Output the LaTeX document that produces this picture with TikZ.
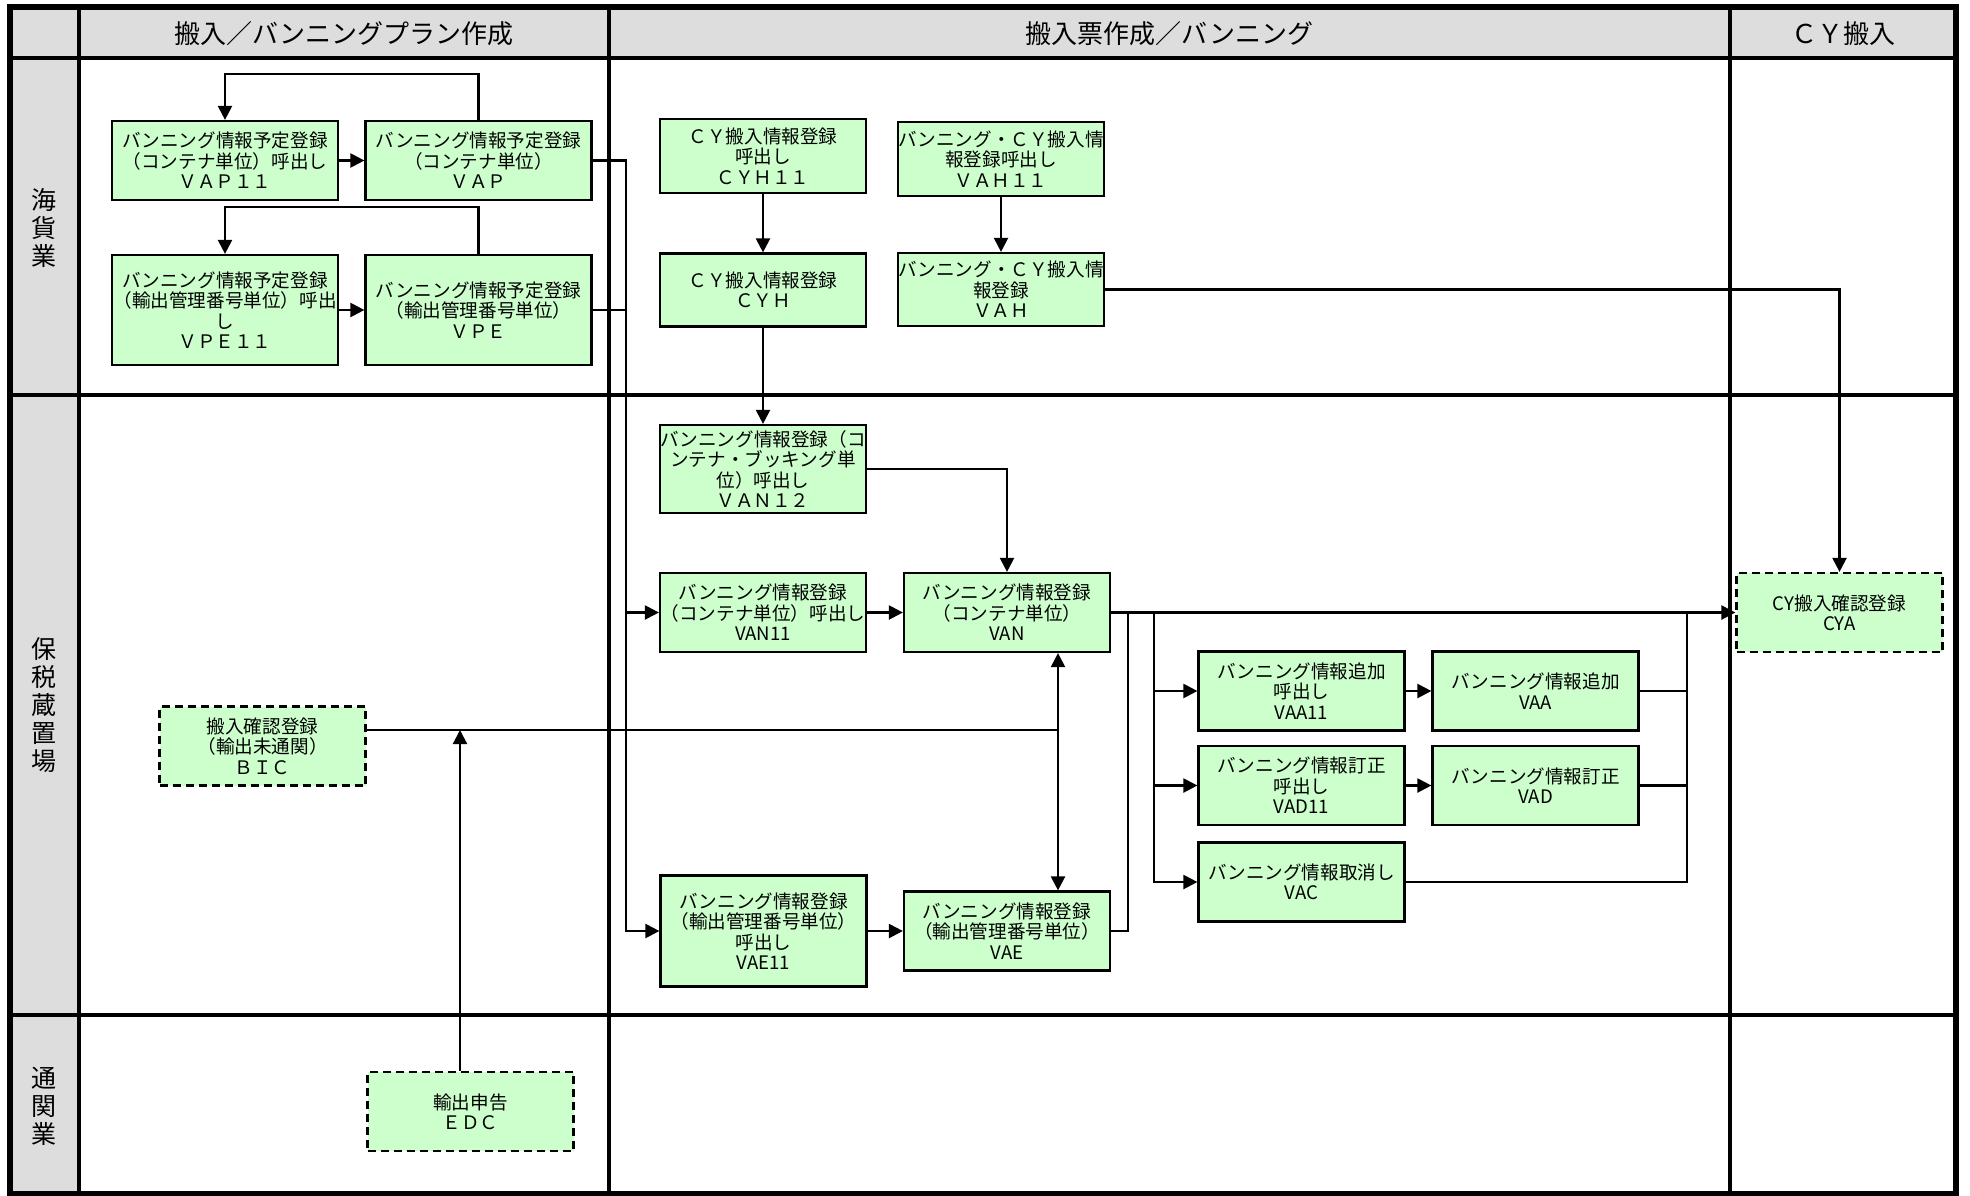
\documentclass[tikz,border=0pt]{standalone}
\usepackage{fontspec}
\newfontfamily\jp{Noto Sans CJK JP}
\usetikzlibrary{arrows.meta}
\definecolor{procgreen}{RGB}{204,255,204}
\definecolor{lanegray}{RGB}{221,221,221}

\begin{document}
\begin{tikzpicture}[x=0.5pt,y=-0.5pt,
  proc/.style={draw=black,line width=1.1pt,fill=procgreen,inner sep=0pt,align=center,
    minimum width=103pt,minimum height=39.5pt,font=\jp\fontsize{9.3}{10.2}\selectfont},
  extproc/.style={proc,dash pattern=on 4pt off 2.5pt},
  wide/.style={minimum width=113pt},
  link/.style={line width=1.1pt},
  arr/.style={link,-{Triangle[length=7pt,width=7pt]}},
  biarr/.style={link,{Triangle[length=7pt,width=7pt]}-{Triangle[length=7pt,width=7pt]}},
  hdrtext/.style={font=\jp\fontsize{13}{15}\selectfont},
  lanetext/.style={font=\jp\fontsize{12.5}{14}\selectfont,align=center}]
  \useasboundingbox (0,0) rectangle (1970,1195);

  % swimlanes
  \fill[lanegray] (10,7) rectangle (1956,58);
  \fill[lanegray] (10,58) rectangle (79,1194);
  \foreach \y in {58,395,1015} \draw[line width=2pt] (10,\y) -- (1956,\y);
  \foreach \x in {79,609,1730} \draw[line width=2pt] (\x,7) -- (\x,1194);
  \draw[line width=2.8pt] (10,7) rectangle (1956,1194);

  \node[hdrtext] (colplan) at (344,34) {搬入／バンニングプラン作成};
  \node[hdrtext] (colslip) at (1169.5,34) {搬入票作成／バンニング};
  \node[hdrtext] (colcy) at (1843,34) {ＣＹ搬入};
  \node[lanetext] (lanefwd) at (44.5,228) {海\\貨\\業};
  \node[lanetext] (lanebond) at (44.5,705) {保\\税\\蔵\\置\\場};
  \node[lanetext] (lanecust) at (44.5,1106) {通\\関\\業};

  % programs
  \node[proc,wide] (VAP11) at (225,160.5) {バンニング情報予定登録\\（コンテナ単位）呼出し\\ＶＡＰ１１};
  \node[proc,wide] (VAP) at (478.5,160.5) {バンニング情報予定登録\\（コンテナ単位）\\ＶＡＰ};
  \node[proc,wide,minimum height=55pt] (VPE11) at (225,310) {バンニング情報予定登録\\（輸出管理番号単位）呼出\\し\\ＶＰＥ１１};
  \node[proc,wide,minimum height=55pt] (VPE) at (478.5,310) {バンニング情報予定登録\\（輸出管理番号単位）\\ＶＰＥ};
  \node[proc,minimum height=37pt] (CYH11) at (763,156) {ＣＹ搬入情報登録\\呼出し\\ＣＹＨ１１};
  \node[proc,minimum height=37pt] (VAH11) at (1001,159) {バンニング・ＣＹ搬入情\\報登録呼出し\\ＶＡＨ１１};
  \node[proc,minimum height=36.5pt] (CYH) at (763,290) {ＣＹ搬入情報登録\\ＣＹＨ};
  \node[proc,minimum height=36.5pt] (VAH) at (1001,289.5) {バンニング・ＣＹ搬入情\\報登録\\ＶＡＨ};
  \node[proc,minimum height=44pt] (VAN12) at (763,469) {バンニング情報登録（コ\\ンテナ・ブッキング単\\位）呼出し\\ＶＡＮ１２};
  \node[proc] (VAN11) at (763,612.5) {バンニング情報登録\\（コンテナ単位）呼出し\\VAN11};
  \node[proc] (VAN) at (1007,612.5) {バンニング情報登録\\（コンテナ単位）\\VAN};
  \node[proc,minimum height=55.5pt] (VAE11) at (763.5,931) {バンニング情報登録\\（輸出管理番号単位）\\呼出し\\VAE11};
  \node[proc] (VAE) at (1007,931) {バンニング情報登録\\（輸出管理番号単位）\\VAE};
  \node[proc] (VAA11) at (1301.5,691) {バンニング情報追加\\呼出し\\VAA11};
  \node[proc] (VAA) at (1535.5,691) {バンニング情報追加\\VAA};
  \node[proc] (VAD11) at (1301.5,785.5) {バンニング情報訂正\\呼出し\\VAD11};
  \node[proc] (VAD) at (1535.5,785.5) {バンニング情報訂正\\VAD};
  \node[proc] (VAC) at (1301.5,882) {バンニング情報取消し\\VAC};
  \node[extproc] (CYA) at (1839.5,612.5) {CY搬入確認登録\\CYA};
  \node[extproc] (BIC) at (262.5,746) {搬入確認登録\\（輸出未通関）\\ＢＩＣ};
  \node[extproc] (EDC) at (470.5,1111.5) {輸出申告\\ＥＤＣ};

  % flow
  \coordinate (trunk) at (626,160.5);
  \coordinate (bus) at (1058,730);
  \coordinate (edcup) at (460,730);
  \coordinate (back) at (1128,612.5);
  \coordinate (split) at (1154,612.5);
  \coordinate (merge) at (1687,612.5);

  \draw[arr] (VAP11) -- (VAP);
  \draw[arr] (VAP.north) -- ++(0,-46) -| (VAP11.north);
  \draw[arr] (VPE11) -- (VPE);
  \draw[arr] (VPE.north) -- ++(0,-47) -| (VPE11.north);
  \draw[arr] (VAP.east) -| (trunk |- VAE11.west) -- (VAE11.west);
  \draw[link] (VPE.east) -- (VPE.east -| trunk);
  \draw[arr] (trunk |- VAN11.west) -- (VAN11.west);
  \draw[arr] (CYH11) -- (CYH);
  \draw[arr] (CYH) -- (VAN12);
  \draw[arr] (VAH11) -- (VAH);
  \draw[arr] (VAH.east) -| (CYA.north);
  \draw[arr] (VAN12.east) -| (VAN.north);
  \draw[arr] (VAN11) -- (VAN);
  \draw[arr] (VAN.east) -- (CYA.west);
  \draw[arr] (split) |- (VAC.west);
  \draw[arr] (split |- VAA11.west) -- (VAA11.west);
  \draw[arr] (split |- VAD11.west) -- (VAD11.west);
  \draw[arr] (VAA11) -- (VAA);
  \draw[arr] (VAD11) -- (VAD);
  \draw[link] (VAA.east) -| (merge);
  \draw[link] (VAD.east) -- (VAD.east -| merge);
  \draw[link] (VAC.east) -| (merge);
  \draw[arr] (VAE11) -- (VAE);
  \draw[link] (VAE.east) -| (back);
  \draw[biarr] (VAN.south -| bus) -- (VAE.north -| bus);
  \draw[link] (BIC.east |- bus) -- (bus);
  \draw[arr] (EDC.north -| edcup) -- (edcup);
\end{tikzpicture}
\end{document}
